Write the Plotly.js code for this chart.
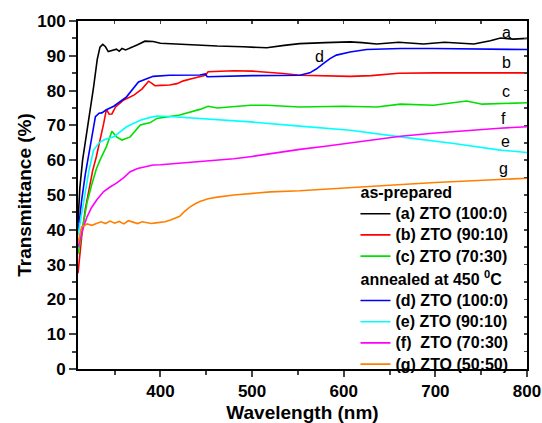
<!DOCTYPE html>
<html>
<head>
<meta charset="utf-8">
<script src="https://cdn.plot.ly/plotly-3.0.1.min.js"></script>
<style>html,body{margin:0;padding:0;background:#fff;}#chart{width:542px;height:423px;}</style>
</head>
<body>
<div id="chart"></div>
<script>
// ---- data ----
var wlA = [310,312,315,319,323,327,331,334,337,340,343,347,352,355,358,362,368,375,383,392,400,420,450,462,490,516,535,552,580,607,620,636,660,687,710,742,760,771,785,800];
var tA  = [42,52,60,67,73,81,89,92.5,93.3,92.6,91.2,91.5,91.9,91.3,92.1,91.7,92.3,93.2,94.2,94.1,93.6,93.3,93.0,92.8,92.6,92.3,93.0,93.5,93.8,94.0,93.8,93.4,93.9,93.4,93.9,93.4,94.3,95.1,94.8,95.0];

var wlB = [310,314,318,322,326,330,334,338,341,344,347,351,360,371,380,387,391,394,400,410,418,425,435,443,449,452,465,480,500,520,534,552,580,607,630,660,700,750,800];
var tB  = [27.5,38,46,52,57,61,65.5,70.5,74.6,73.2,73.3,75.3,77.3,78.7,80.5,82.7,82,81.4,81.5,81.6,82,82.8,83.5,84.1,84.4,85.4,85.6,85.7,85.6,85.3,84.9,84.4,84.2,84.1,84.3,85.0,85.1,85.1,85.1];

var wlC = [310,315,320,325,330,334,338,341,347,352,358,367,378,389,396,410,421,443,452,462,480,498,516,552,600,636,662,698,734,751,800];
var tC  = [33,41,48,53,57.5,60,62.5,63.9,68.3,66.7,65.8,66.7,70.1,70.8,72,72.6,73,74.6,75.5,75,75.5,75.8,75.8,75.3,75.5,75.3,76.1,75.8,77.0,76.1,76.5];

var wlD = [310,314,318,323,326,329,333,336,341,349,363,376,392,410,443,449,451,500,552,563,570,578,585,592,600,607,625,662,698,750,800];
var tD  = [39,48.5,56,62.9,68,72.5,73.5,73.6,74.5,75.5,78.2,82.5,84.1,84.4,84.5,84.8,84.0,84.3,84.4,85.1,86.2,87.8,89.2,90.2,90.8,91.1,91.8,92.1,92.1,92.0,91.8];

var wlE = [310,314,318,322,327,333,338,349,363,378,389,396,414,443,498,552,607,662,720,771,800];
var tE  = [38.5,45,51,57,62.9,65,65.8,66.7,69.6,71.5,72.3,72.7,72.5,72,71,69.8,68.6,66.7,64.8,62.9,62.2];

var wlF = [310,315,320,325,331,338,345,352,360,367,375,385,392,400,420,443,454,480,498,520,552,580,607,640,662,700,740,770,800];
var tF  = [35,40,43.8,46.5,48.8,51,52.3,53.4,55,56.7,57.6,58.2,58.6,58.7,59.1,59.6,59.8,60.4,61,61.9,63.1,64,65,66.2,66.9,67.8,68.7,69.2,69.6];

var wlG = [310,312,314,317,320,325,330,335,340,345,350,355,360,365,370,375,380,385,390,395,400,405,411,416,421,426,432,438,443,452,462,480,498,520,552,580,607,650,700,750,800];
var tG  = [36.2,39,40.9,41.2,41.7,41.3,41.9,42.3,41.8,42.5,41.9,42.4,41.7,42.6,42.2,41.8,42.3,42.0,41.8,42.0,42.2,42.3,42.8,43.3,43.9,45.2,46.5,47.5,48.1,48.9,49.4,50.0,50.5,50.9,51.2,51.7,52.2,52.8,53.6,54.2,54.8];

var names = ['(a) ZTO (100:0)','(b) ZTO (90:10)','(c) ZTO (70:30)','(d) ZTO (100:0)','(e) ZTO (90:10)','(f)  ZTO (70:30)','(g) ZTO (50:50)'];
var colors = ['#000000','#ff0000','#00e000','#0000ff','#00ffff','#ff00ff','#ff8000'];
var groupTitles = ['as-prepared','annealed at 450 <sup>0</sup>C'];
var curveLetters = ['a','b','c','d','e','f','g'];
var letterX = [778,778,777,574,777,774,774];
var letterY = [96.7,88.2,79.6,89.7,65.3,72.0,57.7];
var xTicks = [400,500,600,700,800];

var xs = [wlA,wlB,wlC,wlD,wlE,wlF,wlG];
var ys = [tA,tB,tC,tD,tE,tF,tG];

var FONT = 'Arial, "Liberation Sans", sans-serif';
function big(s) { return '<span style="font-size:16px">' + s + '</span>'; }
var traces = [];
for (var i = 0; i < 7; i++) {
  var g = i < 3 ? 0 : 1;
  traces.push({
    x: xs[i], y: ys[i], type: 'scatter', mode: 'lines',
    name: big(names[i]),
    line: {color: colors[i], width: 1.6},
    legendgroup: 'g' + g,
    legendgrouptitle: {text: big(groupTitles[g]), font: {family: FONT, size: 14, weight: 'bold', color: '#000'}},
    hoverinfo: 'skip'
  });
}
traces.push({x: [310], y: [0], xaxis: 'x2', yaxis: 'y2', showlegend: false, type: 'scatter', mode: 'markers', marker: {opacity: 0}, hoverinfo: 'skip'});

var annotations = curveLetters.map(function (t, i) {
  return {x: letterX[i], y: letterY[i], xref: 'x', yref: 'y', text: t, showarrow: false,
          font: {family: FONT, size: 16, color: '#000'}};
});

var layout = {
  width: 542, height: 423,
  margin: {l: 78, r: 15, t: 21, b: 54},
  paper_bgcolor: '#fff', plot_bgcolor: '#fff',
  font: {family: FONT, color: '#000'},
  showlegend: true,
  legend: {x: 0.618, y: 0.552, xanchor: 'left', yanchor: 'top', bgcolor: 'rgba(0,0,0,0)',
           font: {family: FONT, size: 14, weight: 'bold', color: '#000'},
           tracegroupgap: 2, itemwidth: 30, traceorder: 'grouped'},
  xaxis: {range: [310, 800], tickvals: xTicks, ticks: 'outside', ticklen: 6, tickwidth: 2,
          minor: {dtick: 50, tick0: 300, ticks: 'outside', ticklen: 4, tickwidth: 2},
          showline: true, linewidth: 2, linecolor: '#000', showgrid: false, zeroline: false,
          tickfont: {family: FONT, size: 17, weight: 'bold'},
          title: {text: 'Wavelength (nm)', font: {family: FONT, size: 19, weight: 'bold'}, standoff: 10}},
  yaxis: {range: [0, 100], dtick: 10, ticks: 'outside', ticklen: 7, tickwidth: 2,
          minor: {dtick: 5, ticks: 'outside', ticklen: 4, tickwidth: 2},
          showline: true, linewidth: 2, linecolor: '#000', showgrid: false, zeroline: false,
          tickfont: {family: FONT, size: 17, weight: 'bold'},
          title: {text: 'Transmittance (%)', font: {family: FONT, size: 19, weight: 'bold'}, standoff: 1}},
  xaxis2: {overlaying: 'x', side: 'top', anchor: 'y2', range: [310, 800], dtick: 50, tick0: 300,
           ticks: 'inside', ticklen: 3, tickwidth: 1.5, showticklabels: false,
           showline: true, linewidth: 2, linecolor: '#000', showgrid: false, zeroline: false},
  yaxis2: {overlaying: 'y', side: 'right', anchor: 'x2', range: [0, 100], dtick: 5,
           ticks: 'inside', ticklen: 3, tickwidth: 1.5, showticklabels: false,
           showline: true, linewidth: 2, linecolor: '#000', showgrid: false, zeroline: false},
  annotations: annotations
};

Plotly.newPlot('chart', traces, layout, {staticPlot: true, displayModeBar: false});
</script>
</body>
</html>
